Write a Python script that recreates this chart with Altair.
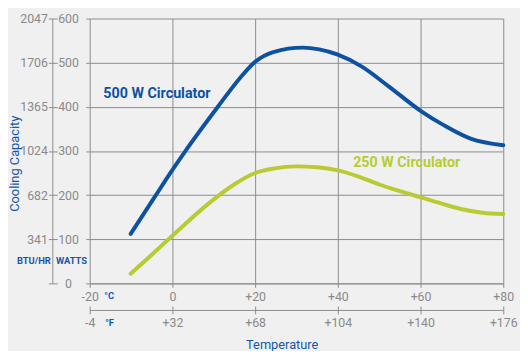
import json
import altair as alt
import pandas as pd

# ---- data ----
T_500 = [-10.1, -4.2, 0, 3, 10.9, 16.4, 20, 24.4, 31.5, 35.5, 40, 45.8, 52.2, 60, 65.7, 72.1, 80]
W_500 = [112, 197, 257, 298, 399, 466, 502, 524, 534, 530, 518, 491, 447, 391, 358, 328, 313]
T_250 = [-10.1, -5, 0, 8.5, 14.9, 20, 24.4, 30, 35, 40, 45, 50, 55, 60, 65, 70, 75, 80]
W_250 = [22, 65, 108, 179, 224, 250, 260, 265, 263, 256, 242, 224, 209, 195, 181, 168, 160, 157]

C_TICKS = [-20, 0, 20, 40, 60, 80]
C_LABELS = ["-20", "0", "+20", "+40", "+60", "+80"]
F_LABELS = ["-4", "+32", "+68", "+104", "+140", "+176"]
W_TICKS = [0, 100, 200, 300, 400, 500, 600]
W_LABELS = ["0", "100", "200", "300", "400", "500", "600"]
BTU_LABELS = ["", "341", "682", "1024", "1365", "1706", "2047"]

SERIES = ["500 W Circulator", "250 W Circulator"]
SERIES_LABEL_T = [-16.7, 43.7]
SERIES_LABEL_W = [429, 273]

UNIT_TEXT = ["BTU/HR", "WATTS", "°C", "°F"]
UNIT_T = [-33.5, -24.4, -15.3, -15.2]
UNIT_W = [51, 51, -29, -89]

# ---- styles ----
FONT = "Roboto, 'Liberation Sans', sans-serif"
BLUE = "#0d52a1"
GREEN = "#b8cb33"
TXT_BLUE = "#1457a6"
GRID = "#8c8c8c"
LBL = "#8a8a8a"
BG = "#f0f0f0"

df500 = pd.DataFrame({"T": T_500, "W": W_500})
df250 = pd.DataFrame({"T": T_250, "W": W_250})
df_series = pd.DataFrame({"T": SERIES_LABEL_T, "W": SERIES_LABEL_W, "s": SERIES})
df_units = pd.DataFrame({"T": UNIT_T, "W": UNIT_W, "u": UNIT_TEXT})

xs = alt.Scale(domain=[-20, 80], nice=False, zero=False)
ys = alt.Scale(domain=[0, 600], nice=False, zero=False)

c_expr = "%s[indexof(%s, datum.value)]" % (json.dumps(C_LABELS), json.dumps(C_TICKS))
f_expr = "%s[indexof(%s, datum.value)]" % (json.dumps(F_LABELS), json.dumps(C_TICKS))
w_expr = "%s[indexof(%s, datum.value)]" % (json.dumps(W_LABELS), json.dumps(W_TICKS))
b_expr = "%s[indexof(%s, datum.value)]" % (json.dumps(BTU_LABELS), json.dumps(W_TICKS))

LFS = 12.5

axis_c = alt.Axis(orient="bottom", offset=0, values=C_TICKS, labelExpr=c_expr,
                  grid=True, gridColor=GRID, gridWidth=1, gridOpacity=1,
                  domain=True, domainColor=GRID, tickColor=GRID, tickSize=4,
                  labelColor=LBL, labelFont=FONT, labelFontSize=LFS, labelPadding=3,
                  labelFlush=False, labelOverlap=False, title=None)
axis_w = alt.Axis(orient="left", offset=0, values=W_TICKS, labelExpr=w_expr,
                  grid=True, gridColor=GRID, gridWidth=1, gridOpacity=1,
                  domain=False, tickColor=GRID, tickSize=4,
                  labelColor=LBL, labelFont=FONT, labelFontSize=LFS, labelAlign="center",
                  labelBaseline="middle", labelPadding=18, labelFlush=False,
                  labelOverlap=False, title=None)

axis_f = alt.Axis(orient="bottom", offset=27, values=C_TICKS, labelExpr=f_expr,
                  grid=False, domain=True, domainColor=GRID, tickColor=GRID, tickSize=4,
                  labelColor=LBL, labelFont=FONT, labelFontSize=LFS, labelPadding=3,
                  labelFlush=False, labelOverlap=False,
                  title="Temperature", titleColor=TXT_BLUE, titleFont=FONT,
                  titleFontSize=13, titleFontWeight="normal", titleX=195, titleY=35,
                  titleAlign="center", titleBaseline="middle")
axis_btu = alt.Axis(orient="left", offset=33, values=W_TICKS, labelExpr=b_expr,
                    grid=False, domain=False, tickColor=GRID, tickSize=9,
                    labelColor=LBL, labelFont=FONT, labelFontSize=LFS, labelAlign="right",
                    labelBaseline="middle", labelPadding=1, labelFlush=False,
                    labelOverlap=False,
                    title="Cooling Capacity", titleColor=TXT_BLUE, titleFont=FONT,
                    titleFontSize=13, titleFontWeight="normal", titleX=-43, titleY=147,
                    titleAngle=270, titleAlign="center", titleBaseline="middle")

axis_f_up = alt.Axis(orient="bottom", offset=23, values=C_TICKS, labels=False,
                     grid=False, domain=False, tickColor=GRID, tickSize=4, title=None)
axis_btu_dom = alt.Axis(orient="left", offset=38, values=W_TICKS, labels=False,
                        ticks=False, grid=False, domain=True, domainColor=GRID, title=None)

line500 = alt.Chart(df500).mark_line(
    color=BLUE, strokeWidth=4, interpolate="monotone", strokeCap="round"
).encode(
    x=alt.X("T:Q", scale=xs, axis=axis_c),
    y=alt.Y("W:Q", scale=ys, axis=axis_w),
)

line250 = alt.Chart(df250).mark_line(
    color=GREEN, strokeWidth=4, interpolate="monotone", strokeCap="round"
).encode(
    x=alt.X("T:Q", scale=xs, axis=axis_f),
    y=alt.Y("W:Q", scale=ys, axis=axis_btu),
)

series_text = alt.Chart(df_series).mark_text(
    align="left", baseline="middle", font=FONT, fontSize=14.5, fontWeight="bold"
).encode(
    x=alt.X("T:Q", scale=xs, axis=axis_f_up),
    y=alt.Y("W:Q", scale=ys, axis=axis_btu_dom),
    text="s:N",
    color=alt.Color("s:N", scale=alt.Scale(domain=SERIES, range=[BLUE, GREEN]), legend=None),
)

unit_text = alt.Chart(df_units).mark_text(
    align="center", baseline="middle", font=FONT, fontSize=9.5, fontWeight="bold", color=TXT_BLUE
).encode(
    x=alt.X("T:Q", scale=xs, axis=None),
    y=alt.Y("W:Q", scale=ys, axis=None),
    text="u:N",
)

chart = alt.layer(line500, line250, series_text, unit_text).resolve_scale(
    x="independent", y="independent"
).resolve_axis(
    x="independent", y="independent"
).properties(
    width=420, height=269,
    padding={"left": 83, "top": 8, "right": 17, "bottom": 66},
    autosize=alt.AutoSizeParams(type="none"),
    background=BG,
).configure_view(stroke=None)

chart.save("out.html", embed_options={"renderer": "svg", "actions": False})
